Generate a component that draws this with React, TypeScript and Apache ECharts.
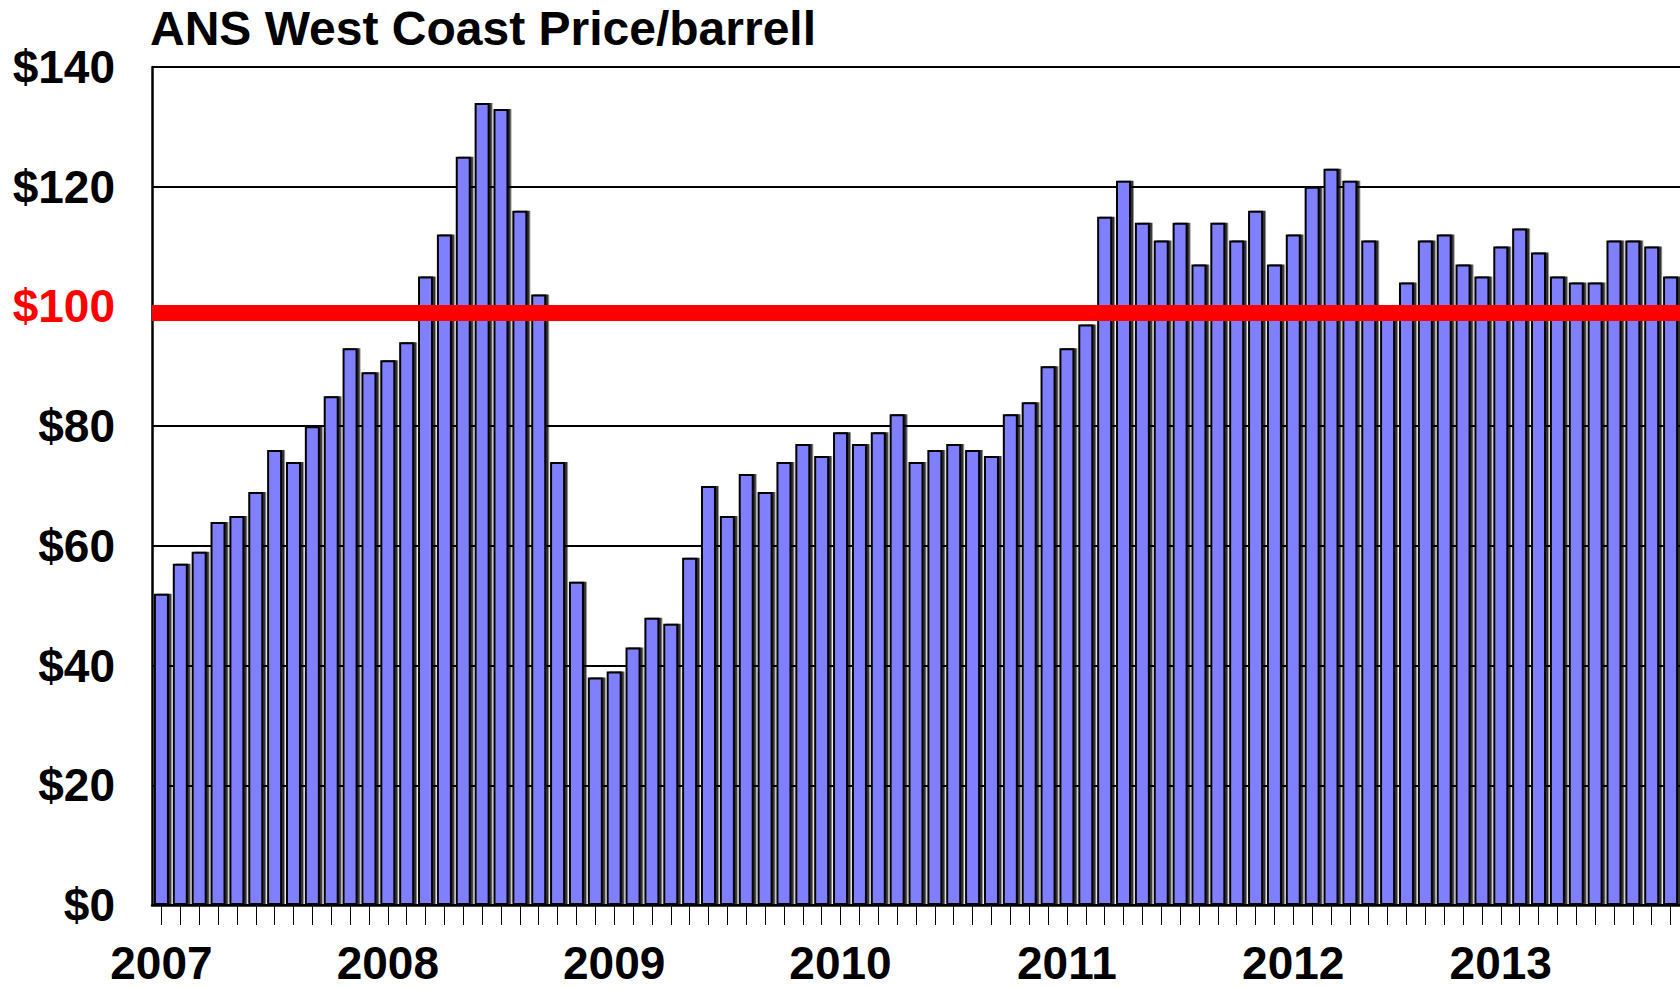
import React, { useEffect, useRef } from "react";
import * as echarts from "echarts";

// ---- Data (monthly ANS West Coast price, $/barrel) ----
const monthNames = ["Jan", "Feb", "Mar", "Apr", "May", "Jun", "Jul", "Aug", "Sep", "Oct", "Nov", "Dec"];
const years = ["2007", "2008", "2009", "2010", "2011", "2012", "2013"];

const prices2007 = [52, 57, 59, 64, 65, 69, 76, 74, 80, 85, 93, 89];
const prices2008 = [91, 94, 105, 112, 125, 134, 133, 116, 102, 74, 54, 38];
const prices2009 = [39, 43, 48, 47, 58, 70, 65, 72, 69, 74, 77, 75];
const prices2010 = [79, 77, 79, 82, 74, 76, 77, 76, 75, 82, 84, 90];
const prices2011 = [93, 97, 115, 121, 114, 111, 114, 107, 114, 111, 116, 107];
const prices2012 = [112, 120, 123, 121, 111, 99, 104, 111, 112, 107, 105, 110];
const prices2013 = [113, 109, 105, 104, 104, 111, 111, 110, 105];

// Year tick labels and the category index where each is printed
const yearLabels = ["2007", "2008", "2009", "2010", "2011", "2012", "2013"];
const yearLabelIndex = [0, 12, 24, 36, 48, 60, 71];

// Y-axis ticks
const yMin = 0;
const yMax = 140;
const yStep = 20;
const highlightValue = 100; // red "$100" label
const referenceLine = 99; // red horizontal bar

const yearlyPrices = [prices2007, prices2008, prices2009, prices2010, prices2011, prices2012, prices2013];
const prices: number[] = [];
const categories: string[] = [];
yearlyPrices.forEach((arr, yi) => {
  arr.forEach((v, mi) => {
    prices.push(v);
    categories.push(`${monthNames[mi]} ${years[yi]}`);
  });
});

const FONT = "'Liberation Sans', Arial, Helvetica, sans-serif";

export default function App() {
  const ref = useRef<HTMLDivElement>(null);

  useEffect(() => {
    if (!ref.current) return;
    const chart = echarts.init(ref.current, null, { renderer: "svg" });
    const labelAt: Record<number, string> = {};
    yearLabelIndex.forEach((idx, k) => (labelAt[idx] = yearLabels[k]));

    chart.setOption({
      animation: false,
      backgroundColor: "#ffffff",
      title: {
        text: "ANS West Coast Price/barrell",
        left: 150,
        top: 4,
        padding: 0,
        textStyle: {
          fontFamily: FONT,
          fontWeight: "bold",
          fontSize: 48,
          lineHeight: 48,
          color: "#000",
        },
      },
      grid: { left: 152, top: 67, width: 1533, height: 838 },
      xAxis: {
        type: "category",
        data: categories,
        boundaryGap: true,
        axisLine: { show: true, lineStyle: { color: "#000", width: 2.5 } },
        axisTick: {
          show: true,
          interval: 0,
          alignWithLabel: true,
          length: 20,
          lineStyle: { color: "#000", width: 1 },
        },
        axisLabel: {
          interval: 0,
          formatter: (_v: string, i: number) => labelAt[i] ?? "",
          margin: 40,
          fontFamily: FONT,
          fontSize: 46,
          lineHeight: 36,
          fontWeight: "bold",
          color: "#000",
        },
        splitLine: { show: false },
      },
      yAxis: {
        type: "value",
        min: yMin,
        max: yMax,
        interval: yStep,
        axisLine: { show: true, lineStyle: { color: "#000", width: 2.5 } },
        axisTick: { show: false },
        splitLine: { show: true, lineStyle: { color: "#000", width: 2 } },
        axisLabel: {
          margin: 37,
          fontFamily: FONT,
          fontSize: 46,
          fontWeight: "bold",
          color: "#000",
          formatter: (v: number) => (v === highlightValue ? `{r|$${v}}` : `$${v}`),
          rich: {
            r: { color: "#ff0000", fontFamily: FONT, fontSize: 46, fontWeight: "bold" },
          },
        },
      },
      series: [
        {
          type: "bar",
          data: prices,
          barWidth: 15,
          itemStyle: {
            color: "#8080ff",
            borderColor: "#000",
            borderWidth: 2,
            shadowColor: "rgba(0,0,0,0.8)",
            shadowOffsetX: 2.5,
            shadowOffsetY: 0,
            shadowBlur: 0,
          },
          markLine: {
            silent: true,
            symbol: "none",
            label: { show: false },
            lineStyle: { color: "#ff0000", width: 16, type: "solid" },
            data: [{ yAxis: referenceLine }],
          },
        },
      ],
    });
    return () => chart.dispose();
  }, []);

  return (
    <div
      ref={ref}
      style={{ position: "fixed", left: 0, top: 0, width: 1680, height: 988, background: "#fff" }}
    />
  );
}
